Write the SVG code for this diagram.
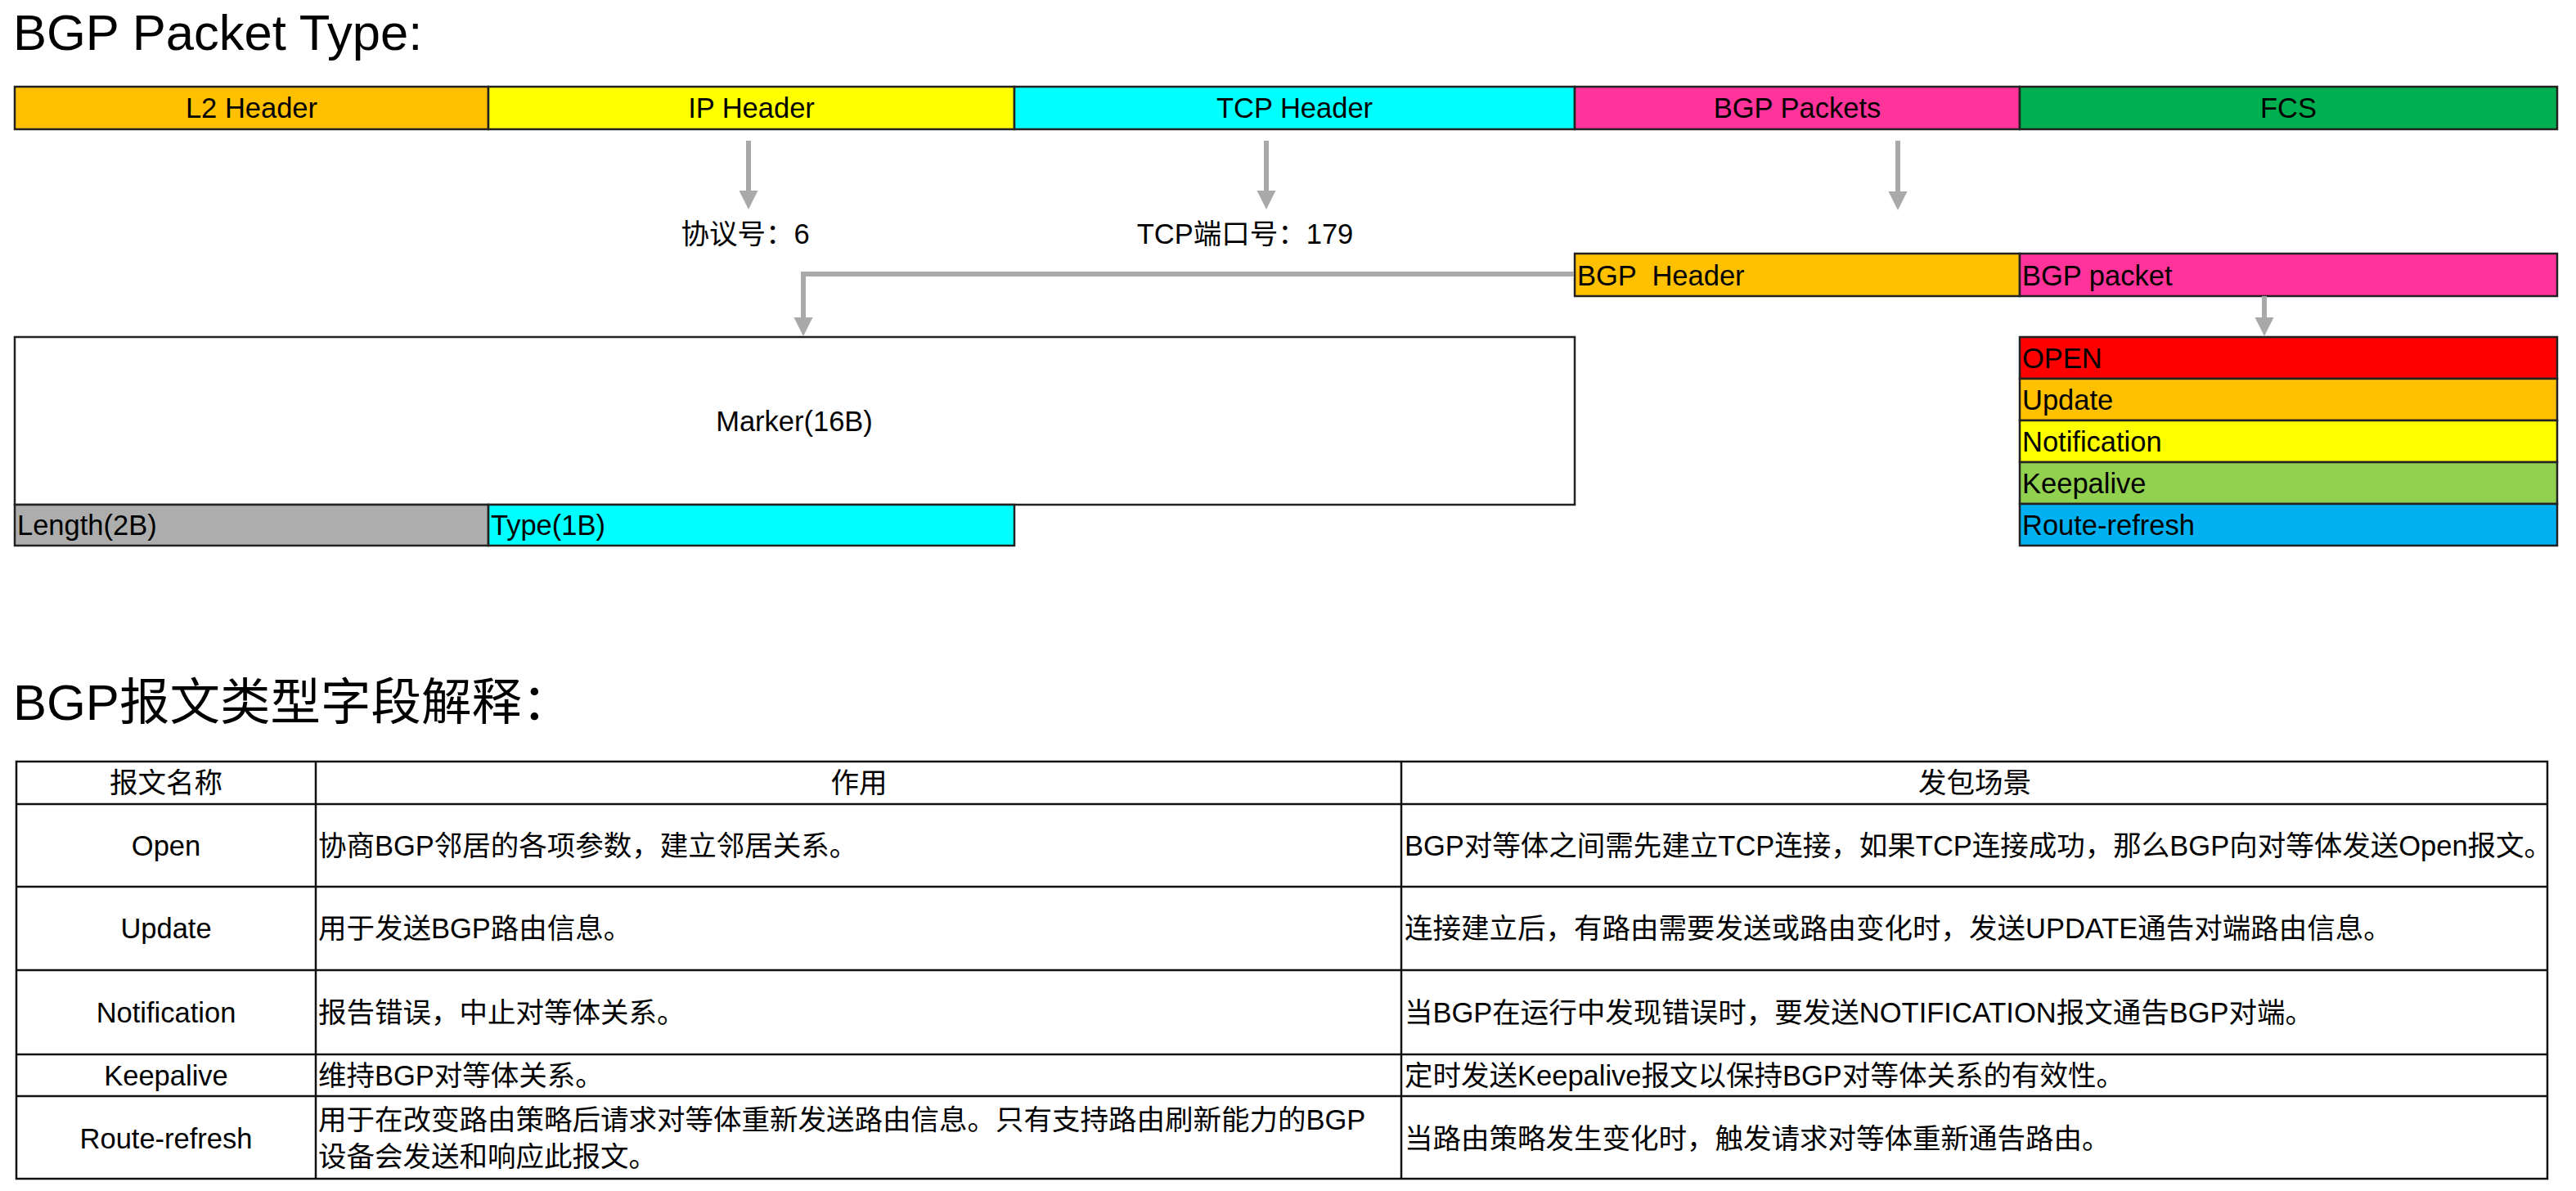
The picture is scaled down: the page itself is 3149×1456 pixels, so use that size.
<svg xmlns="http://www.w3.org/2000/svg" width="3149" height="1456" viewBox="0 0 3149 1456">
<style>
text{font-family:"Liberation Sans","Noto Sans CJK SC",sans-serif;fill:#000;font-size:34.5px}
.title{font-size:61.5px}
.c{text-anchor:middle}
.box{stroke:#222;stroke-width:2.5}
.conn{fill:none;stroke:#A9A9A9;stroke-width:6}
.grid{stroke:#111;stroke-width:2.5;fill:none}
</style>
<defs>
<marker id="ah" markerUnits="userSpaceOnUse" markerWidth="24" markerHeight="24" refX="0" refY="11.5" orient="auto" overflow="visible">
<path d="M0,0 L23,11.5 L0,23 z" fill="#A9A9A9"/>
</marker>
</defs>
<rect width="3149" height="1456" fill="#fff"/>

<text class="title" x="16" y="61">BGP Packet Type:</text>

<g id="l2-header"><rect class="box" x="18" y="106" width="579" height="52" fill="#FFC000"/><text class="c" x="307.5" y="144">L2 Header</text></g>
<g id="ip-header"><rect class="box" x="597" y="106" width="643" height="52" fill="#FFFF00"/><text class="c" x="918.5" y="144">IP Header</text></g>
<g id="tcp-header"><rect class="box" x="1240" y="106" width="685" height="52" fill="#00FFFF"/><text class="c" x="1582.5" y="144">TCP Header</text></g>
<g id="bgp-packets"><rect class="box" x="1925" y="106" width="544" height="52" fill="#FF3399"/><text class="c" x="2197" y="144">BGP Packets</text></g>
<g id="fcs"><rect class="box" x="2469" y="106" width="657" height="52" fill="#00B050"/><text class="c" x="2797.5" y="144">FCS</text></g>

<g id="proto-label"><text class="c" x="911" y="298">协议号：6</text></g>
<g id="port-label"><text class="c" x="1522" y="298">TCP端口号：179</text></g>

<g id="bgp-header"><rect class="box" x="1925" y="310" width="544" height="52" fill="#FFC000"/><text x="1928" y="349" xml:space="preserve">BGP  Header</text></g>
<g id="bgp-packet"><rect class="box" x="2469" y="310" width="657" height="52" fill="#FF3399"/><text x="2472" y="349">BGP packet</text></g>

<g id="marker"><rect class="box" x="18" y="412" width="1907" height="205" fill="#fff"/><text class="c" x="971" y="527">Marker(16B)</text></g>
<g id="length"><rect class="box" x="18" y="617" width="579" height="50" fill="#ADADAD"/><text x="21" y="654">Length(2B)</text></g>
<g id="type"><rect class="box" x="597" y="617" width="643" height="50" fill="#00FFFF"/><text x="600" y="654">Type(1B)</text></g>

<g id="open"><rect class="box" x="2469" y="412" width="657" height="51" fill="#FF0000"/><text x="2472" y="450">OPEN</text></g>
<g id="update"><rect class="box" x="2469" y="463" width="657" height="51" fill="#FFC000"/><text x="2472" y="501">Update</text></g>
<g id="notification"><rect class="box" x="2469" y="514" width="657" height="51" fill="#FFFF00"/><text x="2472" y="552">Notification</text></g>
<g id="keepalive"><rect class="box" x="2469" y="565" width="657" height="51" fill="#92D050"/><text x="2472" y="603">Keepalive</text></g>
<g id="route-refresh"><rect class="box" x="2469" y="616" width="657" height="51" fill="#00B0F0"/><text x="2472" y="654">Route-refresh</text></g>

<g id="connectors">
<path class="conn" d="M915,172 V233" marker-end="url(#ah)"/>
<path class="conn" d="M1548,172 V233" marker-end="url(#ah)"/>
<path class="conn" d="M2320,172 V234" marker-end="url(#ah)"/>
<path class="conn" d="M1924,335 H982 V388" marker-end="url(#ah)"/>
<path class="conn" d="M2768,362 V388" marker-end="url(#ah)"/>
</g>

<text class="title" x="16" y="880">BGP报文类型字段解释：</text>

<g id="table">
<rect class="grid" x="20" y="931" width="3094" height="510"/>
<path class="grid" d="M386,931 V1441 M1713,931 V1441 M20,983 H3114 M20,1084 H3114 M20,1186 H3114 M20,1289 H3114 M20,1340 H3114"/>
<text class="c" x="203" y="969">报文名称</text>
<text class="c" x="1050" y="969">作用</text>
<text class="c" x="2414" y="969">发包场景</text>

<text class="c" x="203" y="1046">Open</text>
<text x="389" y="1046">协商BGP邻居的各项参数，建立邻居关系。</text>
<text x="1717" y="1046">BGP对等体之间需先建立TCP连接，如果TCP连接成功，那么BGP向对等体发送Open报文。</text>

<text class="c" x="203" y="1147">Update</text>
<text x="389" y="1147">用于发送BGP路由信息。</text>
<text x="1717" y="1147">连接建立后，有路由需要发送或路由变化时，发送UPDATE通告对端路由信息。</text>

<text class="c" x="203" y="1250">Notification</text>
<text x="389" y="1250">报告错误，中止对等体关系。</text>
<text x="1717" y="1250">当BGP在运行中发现错误时，要发送NOTIFICATION报文通告BGP对端。</text>

<text class="c" x="203" y="1327">Keepalive</text>
<text x="389" y="1327">维持BGP对等体关系。</text>
<text x="1717" y="1327">定时发送Keepalive报文以保持BGP对等体关系的有效性。</text>

<text class="c" x="203" y="1404">Route-refresh</text>
<text x="389" y="1381">用于在改变路由策略后请求对等体重新发送路由信息。只有支持路由刷新能力的BGP</text>
<text x="389" y="1426">设备会发送和响应此报文。</text>
<text x="1717" y="1404">当路由策略发生变化时，触发请求对等体重新通告路由。</text>
</g>
</svg>
